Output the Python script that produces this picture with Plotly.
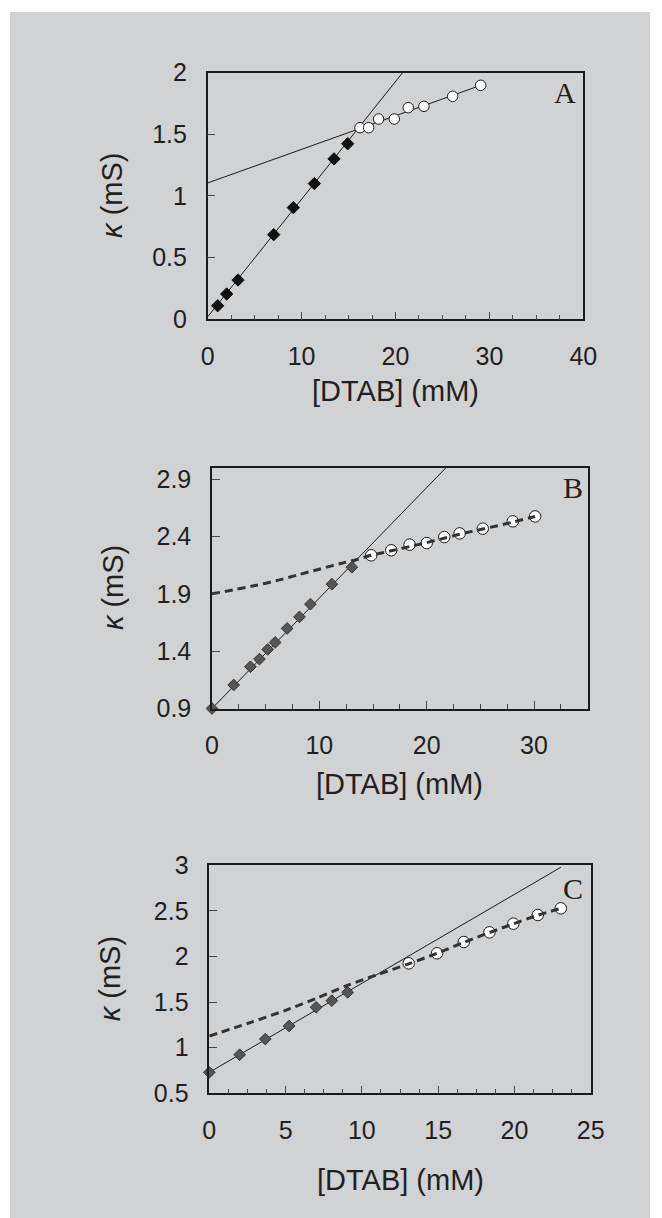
import plotly.graph_objects as go

W, H = 662, 1218

# ---------------- data ----------------
# Panel A
a_pre_x = [1.06, 2.02, 3.23, 7.03, 9.12, 11.36, 13.45, 14.91]
a_pre_y = [0.11, 0.205, 0.318, 0.686, 0.905, 1.10, 1.30, 1.423]
a_post_x = [16.22, 17.14, 18.2, 19.87, 21.36, 23.03, 26.09, 29.07]
a_post_y = [1.553, 1.553, 1.623, 1.623, 1.715, 1.726, 1.807, 1.896]
a_fit1_x = [0, 20.77]
a_fit1_y = [0.02, 2.0]
a_fit2_x = [0, 29.07]
a_fit2_y = [1.105, 1.896]

# Panel B
b_pre_x = [0, 2.02, 3.58, 4.42, 5.19, 5.88, 7.0, 8.15, 9.17, 11.17, 13.03]
b_pre_y = [0.9, 1.105, 1.264, 1.331, 1.415, 1.476, 1.598, 1.699, 1.81, 1.984, 2.132]
b_post_x = [14.83, 16.7, 18.41, 20.0, 21.64, 23.07, 25.22, 28.02, 30.1]
b_post_y = [2.236, 2.28, 2.329, 2.343, 2.395, 2.427, 2.468, 2.532, 2.575]
b_fit_x = [0, 21.8]
b_fit_y = [0.9, 3.0]
b_curve_x = [0, 2, 4, 6, 8, 10, 12, 13.5, 14.83, 16.7, 18.41, 20.0, 21.64, 23.07, 25.22, 28.02, 30.1]
b_curve_y = [1.90, 1.935, 1.972, 2.015, 2.065, 2.115, 2.165, 2.20, 2.236, 2.275, 2.312, 2.347, 2.385, 2.42, 2.465, 2.525, 2.575]

# Panel C
c_pre_x = [0, 1.99, 3.67, 5.23, 7.0, 8.03, 9.07]
c_pre_y = [0.73, 0.923, 1.095, 1.238, 1.443, 1.516, 1.607]
c_post_x = [13.07, 14.93, 16.68, 18.36, 19.93, 21.53, 23.04]
c_post_y = [1.925, 2.035, 2.159, 2.265, 2.36, 2.455, 2.528]
c_fit_x = [0, 23.04]
c_fit_y = [0.73, 2.978]
c_curve_x = [0, 2.5, 5, 7, 9, 11, 13.07, 14.93, 16.68, 18.36, 19.93, 21.53, 23.04]
c_curve_y = [1.128, 1.265, 1.41, 1.54, 1.68, 1.80, 1.92, 2.035, 2.155, 2.262, 2.358, 2.452, 2.528]

# axis settings
x_ranges = [[0, 40], [0, 35], [0, 25]]
x_dticks = [10, 10, 5]
y_ranges = [[0, 2], [0.9, 3.0], [0.5, 3.0]]
y_ticks = [[0, 0.5, 1, 1.5, 2], [0.9, 1.4, 1.9, 2.4, 2.9], [0.5, 1, 1.5, 2, 2.5, 3]]
panel_labels = ["A", "B", "C"]
x_title = "[DTAB] (mM)"
y_title = "<i>κ</i> (mS)"

# ---------------- layout geometry (page pixels) ----------------
boxes = [  # left, right, top, bottom
    (207.7, 583.3, 72.5, 319.3),
    (212.0, 587.7, 467.7, 708.5),
    (209.3, 590.7, 865.3, 1093.3),
]
label_pos = [(565, 92), (573, 488), (573, 888)]
xtitle_y = [391, 784, 1180]
ytitle_x = [112, 113, 110]

TXT = "#231f20"
FONT = "Liberation Sans, Arial, sans-serif"

fig = go.Figure()

def px_x(p):
    return p / W

def px_y(p):
    return 1 - p / H

def add(trace, i):
    trace.update(xaxis="x" if i == 0 else f"x{i+1}", yaxis="y" if i == 0 else f"y{i+1}")
    fig.add_trace(trace)

line_solid = dict(color="#1a1a1a", width=1)
dash_line = dict(color="#333333", width=3, dash="8px,5px", shape="spline", smoothing=0.8)

# Panel A
add(go.Scatter(x=a_fit1_x, y=a_fit1_y, mode="lines", line=line_solid), 0)
add(go.Scatter(x=a_fit2_x, y=a_fit2_y, mode="lines", line=line_solid), 0)
add(go.Scatter(x=a_pre_x, y=a_pre_y, mode="markers", cliponaxis=False,
               marker=dict(symbol="diamond", size=9.5, color="#111111",
                           line=dict(color="#111111", width=1))), 0)
add(go.Scatter(x=a_post_x, y=a_post_y, mode="markers", cliponaxis=False,
               marker=dict(symbol="circle", size=10.5, color="white",
                           line=dict(color="#1a1a1a", width=1))), 0)

# Panel B
add(go.Scatter(x=b_fit_x, y=b_fit_y, mode="lines", line=line_solid), 1)
add(go.Scatter(x=b_pre_x, y=b_pre_y, mode="markers", cliponaxis=False,
               marker=dict(symbol="diamond", size=9, color="#555555",
                           line=dict(color="#333333", width=1))), 1)
add(go.Scatter(x=b_post_x, y=b_post_y, mode="markers", cliponaxis=False,
               marker=dict(symbol="circle", size=11.5, color="white",
                           line=dict(color="#1a1a1a", width=1))), 1)
add(go.Scatter(x=b_curve_x, y=b_curve_y, mode="lines", line=dash_line), 1)

# Panel C
add(go.Scatter(x=c_fit_x, y=c_fit_y, mode="lines", line=line_solid), 2)
add(go.Scatter(x=c_pre_x, y=c_pre_y, mode="markers", cliponaxis=False,
               marker=dict(symbol="diamond", size=9, color="#555555",
                           line=dict(color="#333333", width=1))), 2)
add(go.Scatter(x=c_post_x, y=c_post_y, mode="markers", cliponaxis=False,
               marker=dict(symbol="circle", size=11.5, color="white",
                           line=dict(color="#1a1a1a", width=1))), 2)
add(go.Scatter(x=c_curve_x, y=c_curve_y, mode="lines", line=dash_line), 2)

layout = dict(
    width=W, height=H,
    margin=dict(l=0, r=0, t=0, b=0, pad=0, autoexpand=False),
    paper_bgcolor="white",
    plot_bgcolor="rgba(0,0,0,0)",
    showlegend=False,
    font=dict(family=FONT, size=25, color=TXT),
    shapes=[dict(type="rect", xref="paper", yref="paper",
                 x0=px_x(10), x1=px_x(650), y0=0, y1=px_y(12),
                 fillcolor="#d1d2d4", line=dict(width=0), layer="below")],
    annotations=[],
)

for i, (l, r, t, b) in enumerate(boxes):
    xa = "xaxis" if i == 0 else f"xaxis{i+1}"
    ya = "yaxis" if i == 0 else f"yaxis{i+1}"
    xid = "x" if i == 0 else f"x{i+1}"
    yid = "y" if i == 0 else f"y{i+1}"
    layout[xa] = dict(
        domain=[px_x(l), px_x(r)], anchor=yid, range=x_ranges[i], automargin=False,
        dtick=x_dticks[i], tick0=0, ticks="inside", ticklen=8, tickwidth=1,
        tickcolor="#444444", showline=True, linecolor="#1a1a1a", linewidth=1.5,
        mirror=True, showgrid=False, zeroline=False, ticklabelstandoff=14,
        tickfont=dict(family=FONT, size=25, color=TXT),
        minor=dict(dtick=x_dticks[i] / 4, ticks="inside", ticklen=5,
                   tickwidth=1, tickcolor="#444444", showgrid=False),
    )
    layout[ya] = dict(
        domain=[px_y(b), px_y(t)], anchor=xid, range=y_ranges[i], automargin=False,
        tickvals=y_ticks[i], ticktext=[f"{v:g}" for v in y_ticks[i]],
        ticks="inside", ticklen=8, tickwidth=1, tickcolor="#444444",
        showline=True, linecolor="#1a1a1a", linewidth=1.5, mirror=True,
        showgrid=False, zeroline=False, ticklabelstandoff=14,
        tickfont=dict(family=FONT, size=25, color=TXT),
    )
    cx = (l + r) / 2
    layout["annotations"].append(dict(
        text=x_title, xref="paper", yref="paper", x=px_x(cx), y=px_y(xtitle_y[i]),
        xanchor="center", yanchor="middle", showarrow=False,
        font=dict(family=FONT, size=29, color=TXT)))
    layout["annotations"].append(dict(
        text=y_title, xref="paper", yref="paper", x=px_x(ytitle_x[i]), y=px_y((t + b) / 2),
        xanchor="center", yanchor="middle", textangle=-90, showarrow=False,
        font=dict(family=FONT, size=29, color=TXT)))
    lx, ly = label_pos[i]
    layout["annotations"].append(dict(
        text=panel_labels[i], xref="paper", yref="paper", x=px_x(lx), y=px_y(ly),
        xanchor="center", yanchor="middle", showarrow=False,
        font=dict(family="Liberation Serif, Times New Roman, serif", size=30, color=TXT)))

fig.update_layout(**layout)

# remove the default page margin so the figure sits at the page origin
post_js = ("document.documentElement.style.margin='0';"
           "document.body.style.margin='0';"
           "document.body.style.padding='0';"
           "document.documentElement.style.overflow='hidden';"
           "document.body.style.overflow='hidden';")
fig.write_html("out.html", post_script=post_js, config={"displayModeBar": False})
